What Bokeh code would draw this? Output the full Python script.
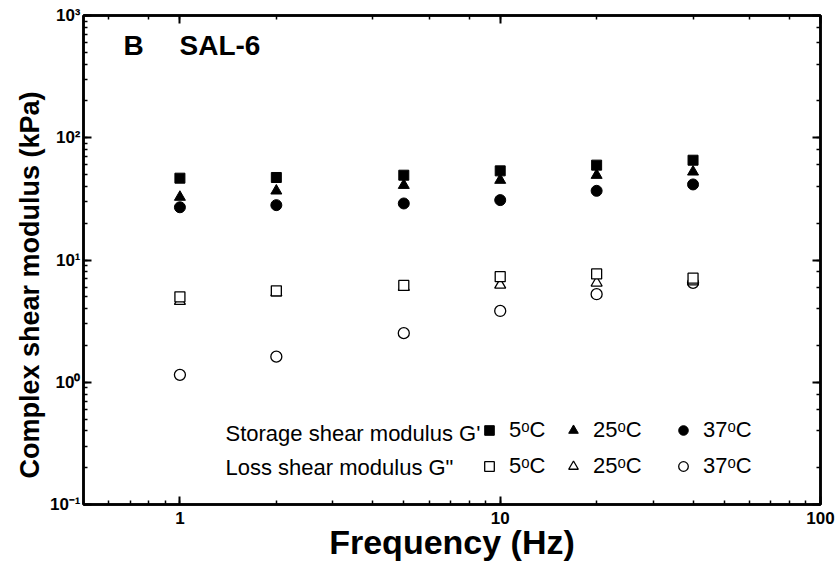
from bokeh.plotting import figure
from bokeh.models import (LogAxis, Range1d, CustomJSTickFormatter, Label, Legend,
                          LegendItem, LogTicker, Title)
from bokeh.embed import file_html
from bokeh.resources import INLINE

# ---- data ----
freq = [1, 2, 5, 10, 20, 40]
storage_5 = [46.7, 47.3, 49.4, 53.6, 59.7, 65.5]
storage_25 = [32.7, 36.8, 40.9, 45.0, 49.4, 52.6]
storage_37 = [27.0, 28.1, 29.0, 30.9, 36.8, 41.5]
loss_5 = [5.0, 5.6, 6.2, 7.3, 7.7, 7.1]
loss_25 = [4.6, 5.4, 6.0, 6.25, 6.5, 6.65]
loss_37 = [1.15, 1.62, 2.52, 3.83, 5.25, 6.5]

temp_labels = ["5\u1d52C", "25\u1d52C", "37\u1d52C"]
row_labels = ["Storage shear modulus G'", 'Loss shear modulus G"']
panel_letter = "B"
panel_title = "SAL-6"
x_title = "Frequency (Hz)"
y_title = "Complex shear modulus (kPa)"

FONT = "Liberation Sans"

p = figure(width=840, height=566, x_axis_type="log", y_axis_type="log",
           x_range=Range1d(0.5, 100), y_range=Range1d(0.1, 1000),
           output_backend="svg", toolbar_location=None,
           min_border_left=83, min_border_right=20, min_border_top=15,
           min_border_bottom=62)
p.grid.visible = False
p.outline_line_color = "black"
p.outline_line_width = 2.5
p.background_fill_color = "white"
p.border_fill_color = "white"

bottom = p.below[0]
left = p.left[0]

# extra top/right axes (ticks only)
top = LogAxis(ticker=LogTicker(),
              formatter=CustomJSTickFormatter(code="return '';"))
right = LogAxis(ticker=LogTicker(),
                formatter=CustomJSTickFormatter(code="return '';"))
p.add_layout(top, "above")
p.add_layout(right, "right")

for ax in [bottom, left, top, right]:
    ax.axis_line_width = 2.5
    ax.major_tick_in = 8
    ax.major_tick_out = 0
    ax.minor_tick_in = 4
    ax.minor_tick_out = 0
    ax.major_tick_line_width = 2
    ax.minor_tick_line_width = 1.5
    ax.major_label_text_font = FONT
    ax.major_label_text_font_style = "bold"
    ax.major_label_text_font_size = "17px"
    ax.major_label_text_color = "black"
    ax.axis_label_text_font = FONT
    ax.axis_label_text_font_style = "bold"
    ax.axis_label_text_color = "black"

for ax in [top, right]:
    ax.major_label_standoff = 0

bottom.formatter = CustomJSTickFormatter(code="return String(Math.round(tick));")
left.formatter = CustomJSTickFormatter(code="""
const e = Math.round(Math.log10(tick));
const sup = {"-1": "\u207b\u00b9", "0": "\u2070", "1": "\u00b9", "2": "\u00b2", "3": "\u00b3"};
return "10" + sup[String(e)];
""")
bottom.axis_label = x_title
bottom.axis_label_text_font_size = "34px"
bottom.major_label_standoff = 7
bottom.axis_label_standoff = -4
left.major_label_standoff = 3

# y title as a side title, starting a little above the frame bottom as in the reference
p.add_layout(Title(text=y_title, align="left", offset=26, standoff=4,
                   text_font=FONT, text_font_size="27px", text_font_style="bold",
                   text_color="black"), "left")

# loss (open) markers
r_l37 = p.scatter(freq, loss_37, marker="circle", size=11, fill_color="white",
                  line_color="black", line_width=1.3)
r_l25 = p.scatter(freq, loss_25, marker="triangle", size=11, fill_color="white",
                  line_color="black", line_width=1.3)
r_l5 = p.scatter(freq, loss_5, marker="square", size=10, fill_color="white",
                 line_color="black", line_width=1.3)
# storage (filled) markers
r_s37 = p.scatter(freq, storage_37, marker="circle", size=11, fill_color="black",
                  line_color="black")
r_s25 = p.scatter(freq, storage_25, marker="triangle", size=11, fill_color="black",
                  line_color="black")
r_s5 = p.scatter(freq, storage_5, marker="square", size=10, fill_color="black",
                 line_color="black")

# one small legend per temperature column (filled row above, open row below)
columns = [(temp_labels[0], r_s5, r_l5, 394),
           (temp_labels[1], r_s25, r_l25, 478),
           (temp_labels[2], r_s37, r_l37, 588)]
for lab, rs, rl, lx in columns:
    lg = Legend(items=[LegendItem(label=lab, renderers=[rs]),
                       LegendItem(label=lab, renderers=[rl])],
                orientation="vertical", location=(lx, 25),
                border_line_alpha=0, background_fill_alpha=0,
                label_text_font=FONT, label_text_font_size="22px",
                label_text_color="black",
                glyph_width=24, glyph_height=24, label_height=24,
                spacing=10, label_standoff=8, padding=0, margin=0)
    p.add_layout(lg, "center")

for txt, yy in zip(row_labels, [71, 37]):
    p.add_layout(Label(x=142, y=yy, x_units="screen", y_units="screen", text=txt,
                       text_font=FONT, text_font_size="22px", text_color="black",
                       text_baseline="middle", text_align="left"))

p.add_layout(Label(x=40, y=459, x_units="screen", y_units="screen", text=panel_letter,
                   text_font=FONT, text_font_size="28px", text_font_style="bold",
                   text_color="black", text_baseline="middle"))
p.add_layout(Label(x=96, y=459, x_units="screen", y_units="screen", text=panel_title,
                   text_font=FONT, text_font_size="28px", text_font_style="bold",
                   text_color="black", text_baseline="middle"))

open("out.html", "w").write(file_html(p, INLINE))
